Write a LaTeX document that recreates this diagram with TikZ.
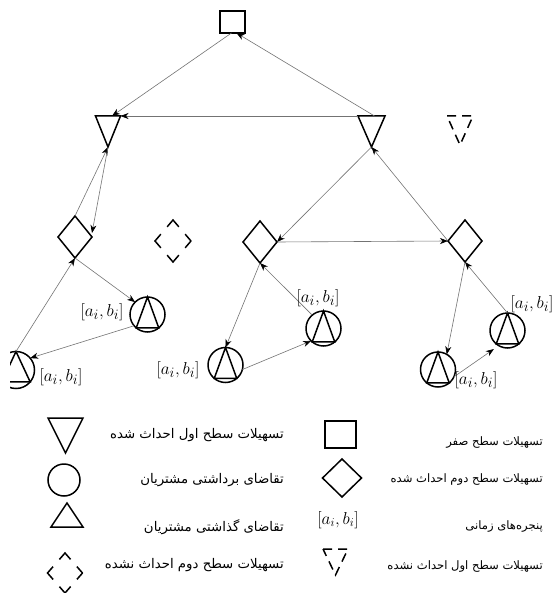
\documentclass[tikz,border=0pt]{standalone}
\usepackage{fontspec}
\usetikzlibrary{arrows.meta,shapes.geometric,calc}
\TeXXeTstate=1
\newfontfamily\fafont[Script=Arabic]{DejaVu Sans}

\begin{document}
\begin{tikzpicture}[x=1pt,y=-1pt,
  shp/.style={draw=black, line width=1.5pt, inner sep=0pt, outer sep=0pt},
  tri/.style={inner sep=0pt, outer sep=0pt, minimum width=25pt, minimum height=31pt},
  dia/.style={shp, diamond, minimum width=34pt, minimum height=42pt},
  ring/.style={shp, circle, minimum size=35pt},
  conn/.style={draw=black!55, line width=0.6pt,
    -{Stealth[length=8pt,width=6pt,inset=2.5pt,black]}},
  lbl/.style={font=\fontsize{19}{19}\selectfont, inner sep=0pt},
  fa/.style={font=\fontsize{11.6}{14}\fafont, inner sep=0pt, anchor=east},
  faL/.style={fa, font=\fontsize{13.3}{15}\fafont},
]
\useasboundingbox (0,0) rectangle (558,593);

% ---------- facilities ----------
\node[shp, minimum width=25pt, minimum height=22pt] (S) at (232.5,22) {};

\node[tri] (T1) at (108,131.5) {};
\node[tri, minimum width=27pt] (T2) at (371.5,131.5) {};
\node[tri, minimum width=26pt, minimum height=29pt] (TD) at (460,130.5) {};
\draw[shp, line join=miter] (T1.north west) -- (T1.north east) -- (T1.south) -- cycle;
\draw[shp, line join=miter] (T2.north west) -- (T2.north east) -- (T2.south) -- cycle;
\draw[shp, dash pattern=on 9pt off 6pt] (TD.north west) -- (TD.north east) -- (TD.south) -- cycle;

\node[dia] (D1) at (75,237) {};
\node[dia] (D2) at (260,242) {};
\node[dia] (D3) at (465,241) {};
\node[dia, minimum width=36pt, dash pattern=on 18pt off 9.66pt, dash phase=9pt] (DD) at (173,241) {};

% ---------- customers ----------
\node[ring] (C1) at (147.5,314.5) {};
\node[ring] (C2) at (225.5,365) {};
\node[ring] (C3) at (323.5,328.5) {};
\node[ring] (C4) at (438,369.5) {};
\node[ring] (C5) at (507.5,330.5) {};
\foreach \c in {C1,C2,C3,C4,C5}
  \draw[shp, line join=miter] (\c.north) -- (\c.-50) -- (\c.230) -- cycle;

\begin{scope}
  \clip (10,300) rectangle (120,420);
  \node[ring, minimum size=37pt] (C0) at (16,370) {};
  \draw[shp, line join=miter] (C0.north) -- (C0.-40) -- (C0.220) -- cycle;
\end{scope}

% ---------- links ----------
\draw[conn] ([xshift=3pt]T2.north) -- ([xshift=4pt]S.south);
\draw[conn] ([xshift=-1pt]S.south) -- ([xshift=4pt]T1.north);
\draw[conn] (T2.north west) -- (T1.north east);

\draw[conn] (D1.north) -- (T1.south);
\draw[conn] (T1.south) -- ([yshift=4pt]D1.east);
\draw[conn] (D1.south) -- (C1.135);
\draw[conn] (C1.220) -- (C0.40);
\draw[conn] (C0.north) -- (D1.south);

\draw[conn] (T2.south) -- (D2.east);
\draw[conn] (D3.west) -- (T2.south);
\draw[conn] (D2.east) -- (D3.west);
\draw[conn] (D2.south) -- (C2.north);
\draw[conn] (C2.-15) -- (C3.225);
\draw[conn] (C3.130) -- (D2.south);
\draw[conn] (D3.south) -- (C4.60);
\draw[conn, shorten >=6pt] (C4.-25) -- (C5.240);
\draw[conn] (C5.north) -- (D3.south);

% ---------- time windows ----------
\node[lbl] (L1) at (102,312) {$[a_i,b_i]$};
\node[lbl] (L0) at (61,377) {$[a_i,b_i]$};
\node[lbl] (L2) at (178,370) {$[a_i,b_i]$};
\node[lbl] (L3) at (318,298) {$[a_i,b_i]$};
\node[lbl] (L5) at (532,304) {$[a_i,b_i]$};
\node[lbl] (L4) at (476,380) {$[a_i,b_i]$};

% ---------- legend ----------
\node[tri, minimum width=35pt, minimum height=35pt] (kT) at (65.5,435.5) {};
\draw[shp, line join=miter] (kT.north west) -- (kT.north east) -- (kT.south) -- cycle;
\node[ring, minimum size=32pt] (kC) at (64,480) {};
\node[tri, minimum width=32pt, minimum height=24pt] (kA) at (67,515) {};
\draw[shp, line join=miter] (kA.south west) -- (kA.south east) -- (kA.north) -- cycle;
\node[dia, minimum width=35pt, minimum height=40pt, dash pattern=on 17pt off 9.6pt, dash phase=8.5pt] (kDD) at (65,573) {};

\node[shp, minimum width=31pt, minimum height=27pt] (kS) at (340.5,434.5) {};
\node[dia, minimum width=39pt, minimum height=38pt] (kD) at (342,478) {};
\node[lbl, font=\fontsize{18}{18}\selectfont] (kW) at (338,520) {$[a_i,b_i]$};
\node[tri, minimum width=25pt, minimum height=26pt] (kTD) at (335.5,562) {};
\draw[shp, dash pattern=on 9pt off 6pt] (kTD.north west) -- (kTD.north east) -- (kTD.south) -- cycle;

\node[faL] (t1) at (284,435) {\beginR تسهیلات سطح اول احداث شده\endR};
\node[faL] (t2) at (284,480) {\beginR تقاضای برداشتی مشتریان\endR};
\node[faL] (t3) at (284,527) {\beginR تقاضای گذاشتی مشتریان\endR};
\node[faL] (t4) at (284,565) {\beginR تسهیلات سطح دوم احداث نشده\endR};

\node[fa] (r1) at (543,443) {\beginR تسهیلات سطح صفر\endR};
\node[fa] (r2) at (543,480) {\beginR تسهیلات سطح دوم احداث شده\endR};
\node[fa] (r3) at (543,527) {\beginR پنجره‌های زمانی\endR};
\node[fa] (r4) at (543,567) {\beginR تسهیلات سطح اول احداث نشده\endR};
\end{tikzpicture}
\end{document}
